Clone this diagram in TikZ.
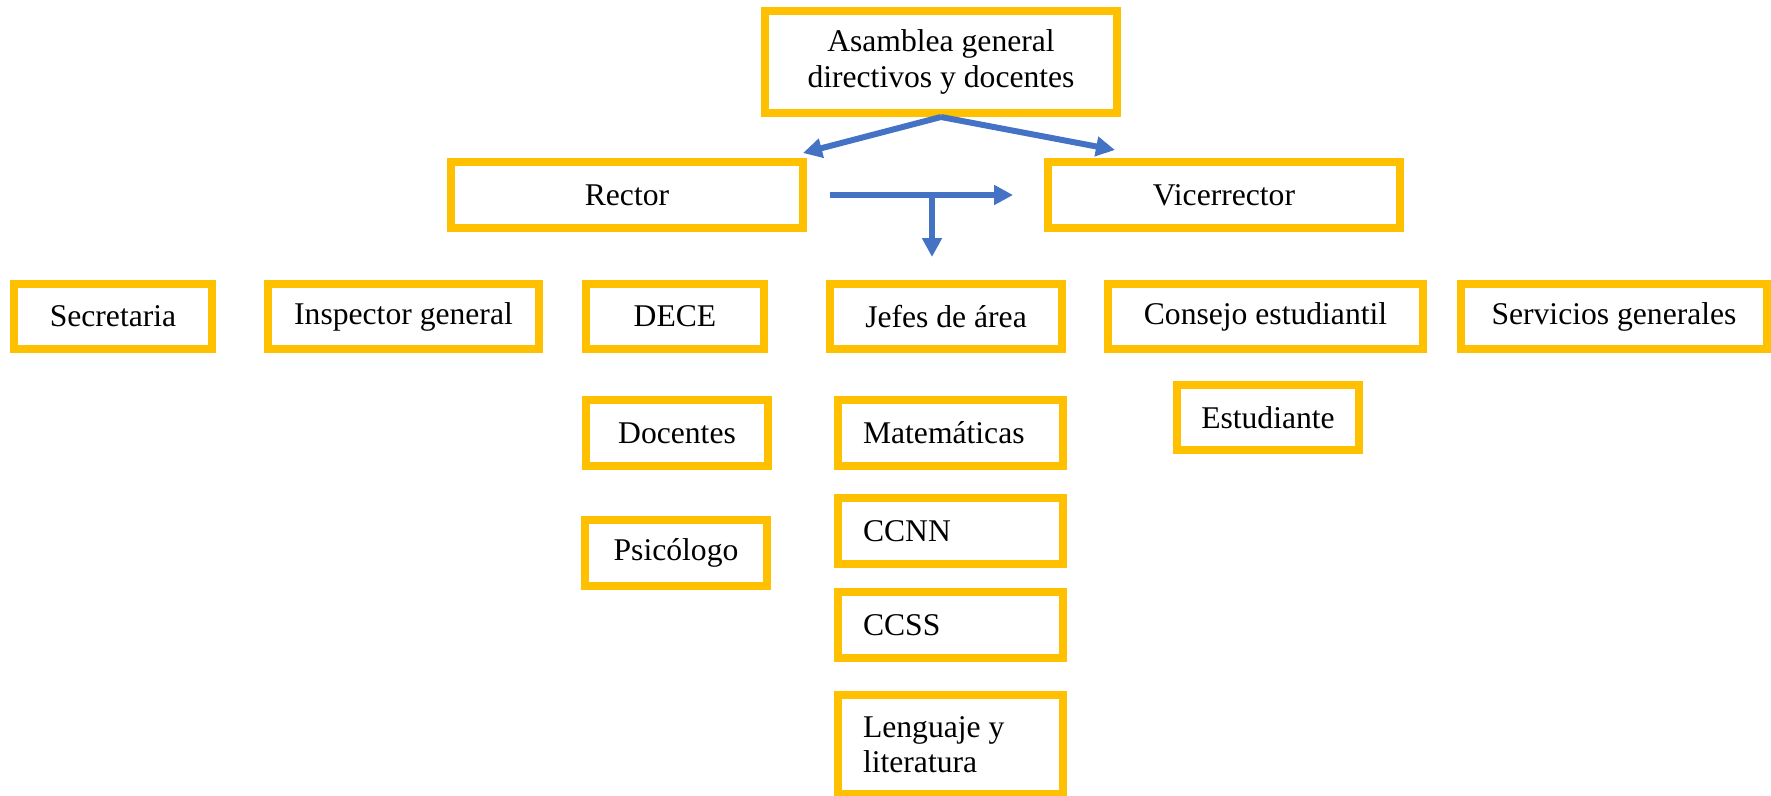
\documentclass[tikz,border=0pt]{standalone}
\usepackage{fontspec}
\setmainfont{Liberation Serif}
\usetikzlibrary{arrows.meta}

\definecolor{boxgold}{HTML}{FFC000}
\definecolor{linkblue}{HTML}{4472C4}

\tikzset{
  orgbox/.style={draw=boxgold, line width=0.16cm, inner sep=0pt, align=center,
    minimum height=1.32cm, font=\fontsize{18}{20}\selectfont},
  areabox/.style={orgbox, align=flush left, text width=3.5cm, inner xsep=0.5cm, minimum width=4.5cm},
  link/.style={draw=linkblue, line width=0.12cm, -{Triangle[length=0.38cm,width=0.38cm]}}
}

\begin{document}
\begin{tikzpicture}[x=0.02cm, y=-0.02cm]
  \useasboundingbox (0,0) rectangle (1771,795);

  % top
  \node[orgbox, minimum width=7.04cm, minimum height=2.04cm] (asamblea) at (941,62) {Asamblea general\\directivos y docentes};
  \node[orgbox, minimum width=7.04cm] (rector) at (627,195) {Rector};
  \node[orgbox, minimum width=7.04cm] (vice) at (1224,195) {Vicerrector};

  % second row
  \node[orgbox, minimum width=3.96cm, minimum height=1.30cm] (secretaria) at (113,316.5) {Secretaria};
  \node[orgbox, minimum width=5.42cm, minimum height=1.30cm] (inspector) at (403.5,316.5) {Inspector general};
  \node[orgbox, minimum width=3.56cm, minimum height=1.30cm] (dece) at (675,316.5) {DECE};
  \node[orgbox, minimum width=4.64cm, minimum height=1.30cm] (jefes) at (946,316.5) {Jefes de área};
  \node[orgbox, minimum width=6.30cm, minimum height=1.30cm] (consejo) at (1265.5,316.5) {Consejo estudiantil};
  \node[orgbox, minimum width=6.12cm, minimum height=1.30cm] (servicios) at (1614,316.5) {Servicios generales};

  % below
  \node[orgbox, minimum width=3.64cm] (docentes) at (677,433) {Docentes};
  \node[orgbox, minimum width=3.64cm] (psicologo) at (676,553) {Psicólogo};
  \node[orgbox, minimum width=3.64cm, minimum height=1.30cm] (estudiante) at (1268,417.5) {Estudiante};

  \node[areabox] (mate) at (950.5,433) {Matemáticas};
  \node[areabox] (ccnn) at (950.5,531) {CCNN};
  \node[areabox] (ccss) at (950.5,625) {CCSS};
  \node[areabox, minimum height=1.98cm] (lengua) at (950.5,744.5) {Lenguaje y\\literatura};

  % arrows
  \coordinate (rtip) at (803,153);
  \coordinate (vtip) at (1115,150);
  \coordinate (split) at (932,196);
  \draw[link] (asamblea.south) -- (rtip);
  \draw[link] (asamblea.south) -- (vtip);
  \draw[link, shorten <=0.46cm, shorten >=0.62cm] (rector.east) -- (vice.west);
  \draw[link, shorten >=0.46cm] (split) -- (split |- jefes.north);
\end{tikzpicture}
\end{document}
